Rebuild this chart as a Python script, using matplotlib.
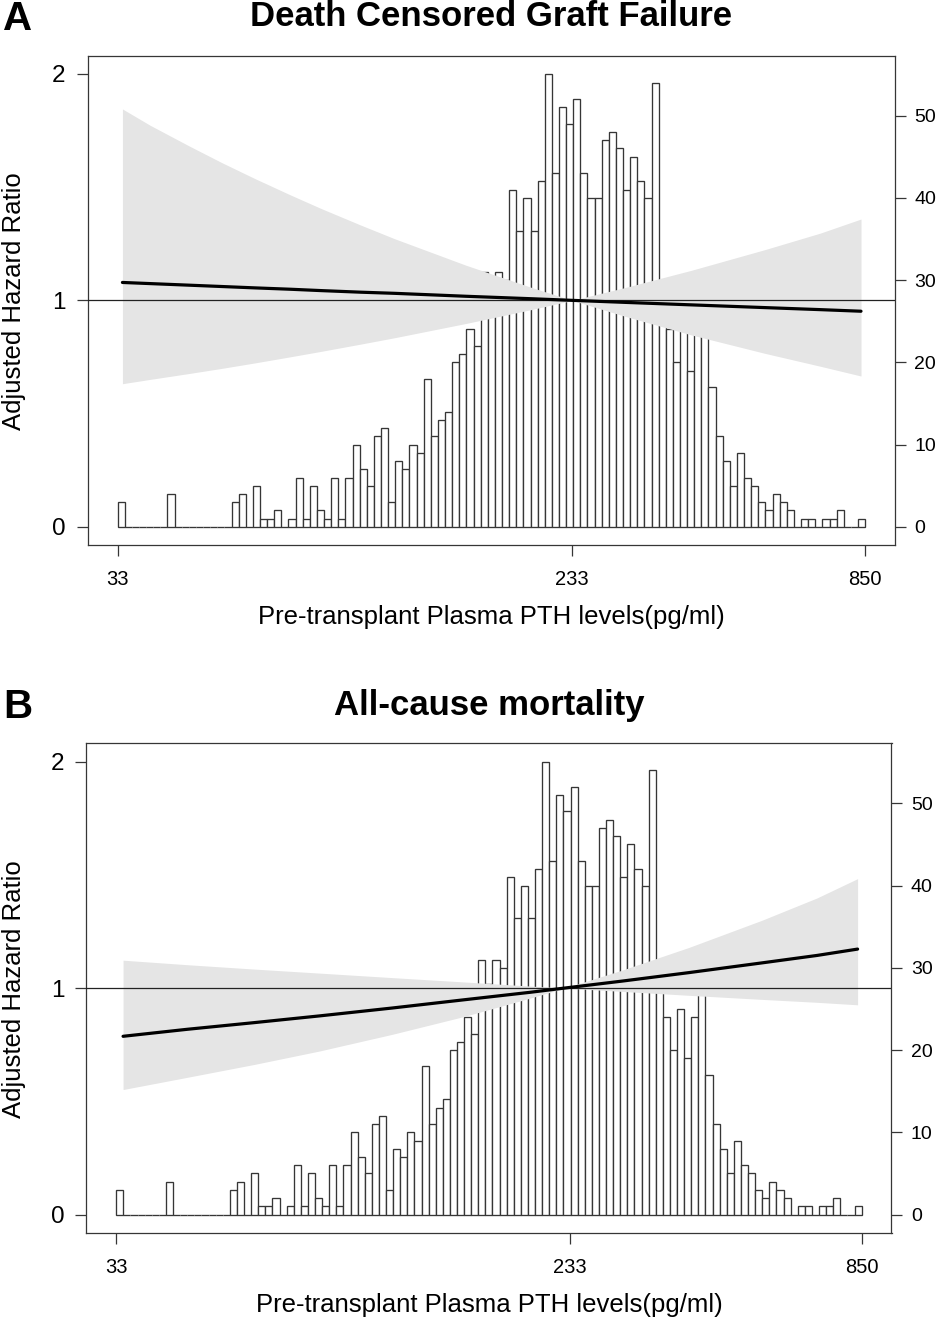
import numpy as np
import matplotlib
matplotlib.use("Agg")
import matplotlib.pyplot as plt
from matplotlib.ticker import FixedLocator, FixedFormatter, NullLocator

plt.rcParams['font.family'] = ['Liberation Sans', 'DejaVu Sans']

# ---------------- data ----------------
pth_min, pth_max = 33, 850
n_bins = 105
hist_counts = [3, 0, 0, 0, 0, 0, 0, 4, 0, 0, 0, 0, 0, 0, 0, 0, 3, 4, 0, 5,
               1, 1, 2, 0, 1, 6, 1, 5, 2, 1, 6, 1, 6, 10, 7, 5, 11, 12, 3, 8,
               7, 10, 9, 18, 11, 13, 14, 20, 21, 24, 22, 31, 28, 31, 30, 41, 36, 40, 36, 42,
               55, 43, 51, 49, 52, 43, 40, 40, 47, 48, 46, 41, 45, 42, 40, 54, 29, 24, 20, 25,
               19, 24, 28, 17, 11, 8, 5, 9, 6, 5, 3, 2, 4, 3, 2, 0, 1, 1, 0, 1,
               1, 2, 0, 0, 1]

xtick_values = [33, 238, 850]
xtick_labels = ['33', '233', '850']
hr_ticks = [0, 1, 2]
count_ticks = [0, 10, 20, 30, 40, 50]

# Panel A: death censored graft failure
pth_a = [33.7, 38, 45, 52, 60, 70, 80, 95, 110, 150, 200, 238, 300, 400, 550, 700, 835]
hr_a = [1.079, 1.074, 1.067, 1.061, 1.055, 1.049, 1.043, 1.036, 1.031, 1.018, 1.007,
        1.000, 0.991, 0.980, 0.968, 0.959, 0.952]
hr_a_hi = [1.845, 1.773, 1.682, 1.607, 1.537, 1.465, 1.405, 1.332, 1.272, 1.155, 1.056,
           1.000, 1.057, 1.133, 1.224, 1.297, 1.359]
hr_a_lo = [0.632, 0.651, 0.677, 0.700, 0.724, 0.751, 0.775, 0.807, 0.835, 0.898, 0.960,
           1.000, 0.929, 0.847, 0.766, 0.709, 0.666]

# Panel B: all-cause mortality
pth_b = [34, 45, 60, 80, 110, 150, 200, 233, 300, 400, 550, 700, 835]
hr_b = [0.787, 0.818, 0.847, 0.877, 0.912, 0.948, 0.981, 1.000, 1.031, 1.068, 1.111, 1.144, 1.172]
hr_b_hi = [1.123, 1.103, 1.084, 1.066, 1.046, 1.027, 1.009, 1.000, 1.080, 1.179, 1.299, 1.398, 1.483]
hr_b_lo = [0.552, 0.606, 0.662, 0.722, 0.796, 0.874, 0.955, 1.000, 0.985, 0.968, 0.950, 0.937, 0.926]

titles = ['Death Censored Graft Failure', 'All-cause mortality']
letters = ['A', 'B']
xlabel = 'Pre-transplant Plasma PTH levels(pg/ml)'
ylabel = 'Adjusted Hazard Ratio'

# ---------------- figure ----------------
W, H = 937, 1320
fig = plt.figure(figsize=(W / 100, H / 100), dpi=100)

edge_col = '#363636'
band_col = '#e5e5e5'

edges = np.geomspace(pth_min, pth_max, n_bins + 1)
lr = np.log(pth_max) - np.log(pth_min)
xlim = (np.exp(np.log(pth_min) - 0.04 * lr), np.exp(np.log(pth_max) + 0.04 * lr))
hr_lim = (-0.08, 2.08)
cnt_scale = 55.07 / 2.0
cnt_lim = (hr_lim[0] * cnt_scale, hr_lim[1] * cnt_scale)

# axes boxes in pixels: (left, right, top, bottom)
boxes = [(87.7, 895.0, 55.7, 545.0), (86.4, 891.5, 743.4, 1232.7)]
curves = [(pth_a, hr_a, hr_a_lo, hr_a_hi), (pth_b, hr_b, hr_b_lo, hr_b_hi)]
title_y = [17, 706]
xlabel_y = [617, 1305]
ylabel_y = [301, 989]
letter_y = [19, 707]

for i in range(2):
    l, r, t, b = boxes[i]
    rect = [l / W, 1 - b / H, (r - l) / W, (b - t) / H]
    axh = fig.add_axes(rect)
    axh.set_xscale('log')
    axh.bar(edges[:-1], hist_counts, width=np.diff(edges), align='edge',
            color='white', edgecolor=edge_col, linewidth=0.95, zorder=1)
    axh.set_ylim(*cnt_lim)

    axc = axh.twinx()
    px, hr, lo, hi = curves[i]
    axc.fill_between(px, lo, hi, color=band_col, linewidth=0, zorder=1)
    axc.axhline(1.0, color='#222222', linewidth=0.9, zorder=2)
    axc.plot(px, hr, color='black', linewidth=2.3, zorder=3,
             solid_capstyle='round')
    axc.set_ylim(*hr_lim)

    # axis sides: counts on the right, hazard ratio on the left
    axh.yaxis.tick_right()
    axh.yaxis.set_label_position('right')
    axc.yaxis.tick_left()
    axc.yaxis.set_label_position('left')

    axh.set_xlim(*xlim)
    axh.xaxis.set_major_locator(FixedLocator(xtick_values))
    axh.xaxis.set_major_formatter(FixedFormatter(xtick_labels))
    axh.xaxis.set_minor_locator(NullLocator())
    axh.set_yticks(count_ticks)
    axc.set_yticks(hr_ticks)

    axh.tick_params(axis='y', which='major', direction='out', length=8,
                    width=0.9, color=edge_col, labelsize=14, pad=6,
                    left=False, labelleft=False, right=True, labelright=True)
    axh.tick_params(axis='x', which='major', direction='out', length=8,
                    width=0.9, color=edge_col, labelsize=14.5, pad=10)
    axc.tick_params(axis='y', which='major', direction='out', length=8,
                    width=0.9, color=edge_col, labelsize=17.5, pad=8,
                    left=True, labelleft=True, right=False, labelright=False)
    for s in axh.spines.values():
        s.set_color(edge_col)
        s.set_linewidth(0.9)
    for s in axc.spines.values():
        s.set_visible(False)

    fig.text(((l + r) / 2) / W, 1 - title_y[i] / H, titles[i], ha='center',
             va='center', fontsize=25, fontweight='bold')
    fig.text(((l + r) / 2) / W, 1 - xlabel_y[i] / H, xlabel, ha='center',
             va='center', fontsize=18.5)
    fig.text(14 / W, 1 - ylabel_y[i] / H, ylabel, ha='center', va='center',
             rotation=90, fontsize=18.5)
    fig.text(3 / W, 1 - letter_y[i] / H, letters[i], ha='left', va='center',
             fontsize=29, fontweight='bold')

fig.savefig('out.png', dpi=100)
